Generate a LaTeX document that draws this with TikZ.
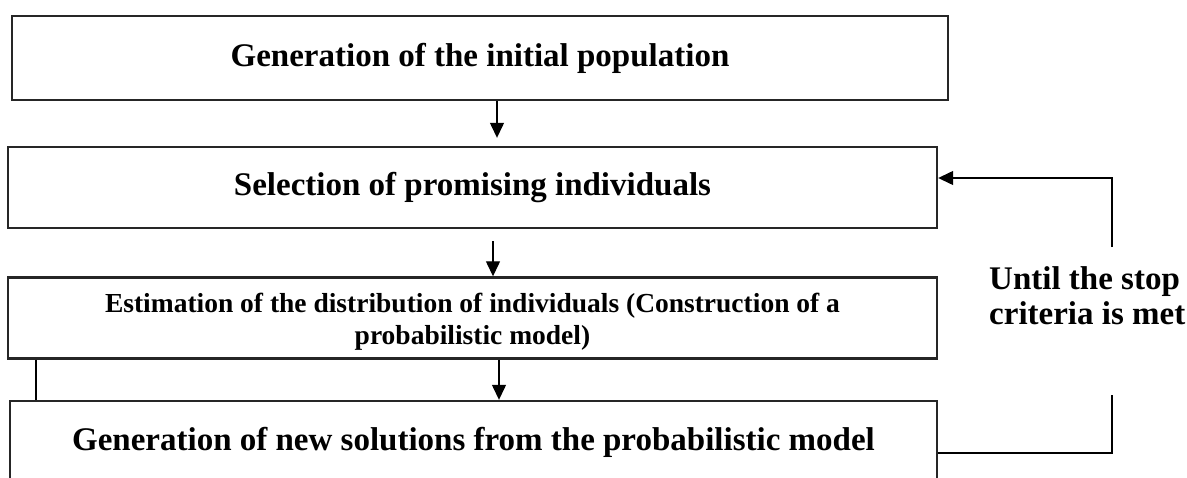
\documentclass[tikz,border=0pt]{standalone}
\usepackage{fontspec}
\setmainfont{Liberation Serif}
\usetikzlibrary{arrows.meta,positioning}
\tikzset{
    block/.style={
        rectangle,
        draw=black!85,
        line width=2.4pt,
        inner sep=0pt,
        font=\fontsize{33}{38}\selectfont\bfseries
    },
    flow/.style={
        -{Triangle[width=14pt,length=15pt]},
        line width=1.3pt
    },
    back/.style={
        line width=1.3pt
    }
}

\begin{document}
\begin{tikzpicture}[x=1pt,y=-1pt]
\clip (0,0) rectangle (1187,477);
\node[block, minimum width=936pt, minimum height=84pt] (init) at (480,58) {Generation of the initial population};
\node[block, minimum width=929pt, minimum height=81pt] (select) at (472.5,187.5) {Selection of promising individuals};
\node[block, minimum width=929pt, minimum height=81pt, align=center,
      font=\fontsize{27.5}{32}\selectfont\bfseries] (estim) at (472.5,318)
      {\\[-6pt]Estimation of the distribution of individuals (Construction of a\\probabilistic model)};
\node[block, minimum width=927pt, minimum height=82pt] (newsol) at (473.5,442) {Generation of new solutions from the probabilistic model};
\node[anchor=north west, inner sep=0pt, align=left,
      font=\fontsize{33}{35}\selectfont\bfseries] (stop) at (989,266) {Until the stop\\criteria is met};

% loop back to the selection step
\coordinate (c1) at (1112,453);
\coordinate (c2) at (1112,395);
\coordinate (c3) at (1112,247);
\coordinate (c4) at (1112,178);

\draw[flow] ([xshift=17pt]init.south) -- ([xshift=24.5pt,yshift=8pt]select.north);
\draw[flow] ([xshift=20.5pt,yshift=-12pt]select.south) -- ([xshift=20.5pt]estim.north);
\draw[flow] ([xshift=26.5pt]estim.south) -- ([xshift=25.5pt]newsol.north);
\draw[line width=2.4pt] ([xshift=29pt]estim.south west) -- ([xshift=27pt]newsol.north west);
\draw[back] (newsol.east |- c1) -- (c1) -- (c2);
\draw[flow] (c3) -- (c4) -- (select.east |- c4);
\end{tikzpicture}
\end{document}
